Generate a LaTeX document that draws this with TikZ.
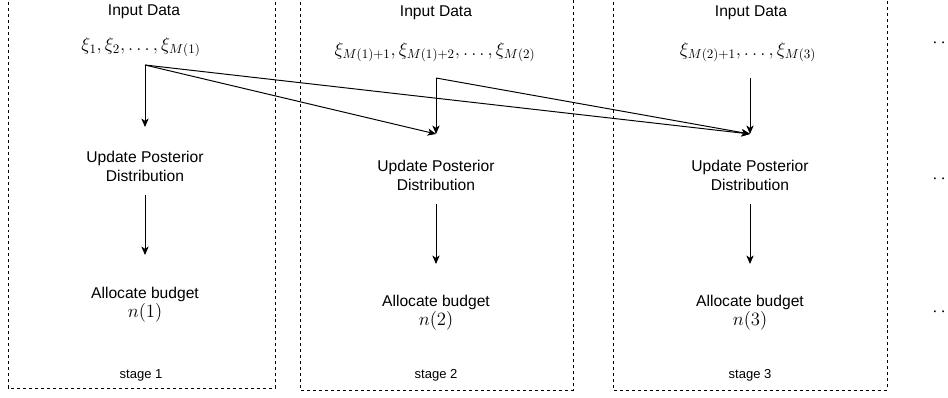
\documentclass[tikz,border=0pt]{standalone}
\usepackage[no-math]{fontspec}
\setmainfont{Liberation Sans}
\usetikzlibrary{arrows.meta}
\tikzset{
  stagebox/.style={draw, line width=0.75pt, dash pattern=on 2.3pt off 2.3pt},
  lbl/.style={align=center, inner sep=0pt, font=\fontsize{12}{14.5}\selectfont},
  maths/.style={inner sep=0pt, font=\fontsize{14}{16}\selectfont},
  tag/.style={inner sep=0pt, font=\fontsize{10}{12}\selectfont},
  flow/.style={line width=0.75pt, -{Stealth[length=6.5pt,width=5.6pt,inset=1.8pt]}}
}
\newcommand{\budget}[1]{Allocate budget\\[0pt]{\fontsize{14}{14}\selectfont$n(#1)$}}

\begin{document}
\begin{tikzpicture}[x=0.27mm, y=-0.27mm]
		%%%%% START %%%%%
		\path[use as bounding box, clip] (0,0) rectangle (948,398);
		
		\draw[stagebox] (8,-10) rectangle (275,388);
		\draw[stagebox] (300,-10) rectangle (573,390);
		\draw[stagebox] (613,-10) rectangle (887,390);
		
		% stage 1
		\node[lbl] (title1) at (144,12) {Input Data};
		\node[maths] (data1) at (141,47) {$\xi_1,\xi_2,\ldots,\xi_{M(1)}$};
		\node[lbl] (post1) at (145,166.5) {Update Posterior\\Distribution};
		\node[lbl] (alloc1) at (145,305) {\budget{1}};
		\node[tag] (stage1) at (141,375) {stage 1};
		\coordinate (d1) at (145,65);
		\coordinate (p1) at (145,127);
		\coordinate (q1) at (145,195);
		\coordinate (b1) at (145,255);
		
		% stage 2
		\node[lbl] (title2) at (436,13) {Input Data};
		\node[maths] (data2) at (435,52) {$\xi_{M(1)+1},\xi_{M(1)+2},\ldots,\xi_{M(2)}$};
		\node[lbl] (post2) at (436,175) {Update Posterior\\Distribution};
		\node[lbl] (alloc2) at (436,313) {\budget{2}};
		\node[tag] (stage2) at (436,375) {stage 2};
		\coordinate (d2) at (436,78);
		\coordinate (p2) at (436,134);
		\coordinate (q2) at (436,204);
		\coordinate (b2) at (436,264);
		
		% stage 3
		\node[lbl] (title3) at (751,13) {Input Data};
		\node[maths] (data3) at (748,52) {$\xi_{M(2)+1},\ldots,\xi_{M(3)}$};
		\node[lbl] (post3) at (750,175) {Update Posterior\\Distribution};
		\node[lbl] (alloc3) at (750,313) {\budget{3}};
		\node[tag] (stage3) at (750,375) {stage 3};
		\coordinate (d3) at (750,78);
		\coordinate (p3) at (750,134);
		\coordinate (q3) at (750,204);
		\coordinate (b3) at (750,264);
		
		% more stages
		\node[maths, anchor=west] (more1) at (932,43) {$\cdots$};
		\node[maths, anchor=west] (more2) at (932,179) {$\cdots$};
		\node[maths, anchor=west] (more3) at (932,312) {$\cdots$};
		
		% data flow
		\draw[flow] (d1) -- (p1);
		\draw[flow] (d1) -- (p2);
		\draw[flow] (d1) -- (p3);
		\draw[flow] (d2) -- (p2);
		\draw[flow] (d2) -- (p3);
		\draw[flow] (d3) -- (p3);
		
		\draw[flow] (q1) -- (b1);
		\draw[flow] (q2) -- (b2);
		\draw[flow] (q3) -- (b3);
		%%%%% END %%%%%
\end{tikzpicture}
\end{document}
